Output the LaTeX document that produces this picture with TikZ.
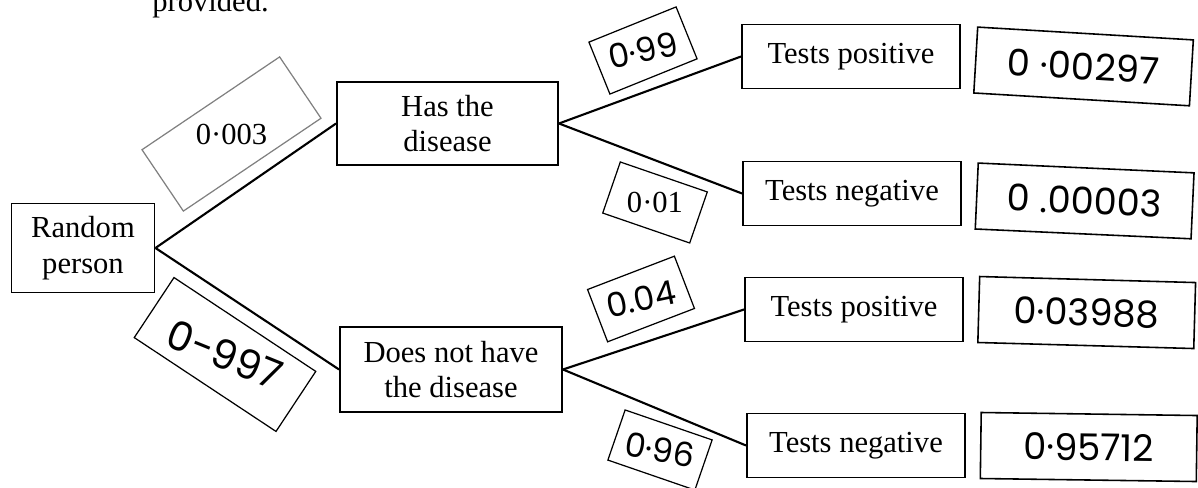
\documentclass[tikz,border=0pt]{standalone}
\usepackage{fontspec}
\setmainfont{Liberation Serif}
\newfontfamily\handfont{Poppins}
\usetikzlibrary{positioning}

\begin{document}
\begin{tikzpicture}[
  font=\fontsize{17.4}{20.4}\selectfont,
  box/.style={draw, line width=1.1pt, align=center, inner sep=2pt},
  outcome/.style={box, minimum width=43.6mm, minimum height=12.8mm},
  result/.style={draw, line width=0.9pt, minimum width=43.2mm, minimum height=13.2mm,
                 font=\handfont\fontsize{21}{24}\selectfont},
  prob/.style={draw, line width=0.7pt, inner sep=0pt},
  hand/.style={font=\handfont\fontsize{19}{21}\selectfont},
  branch/.style={line width=1.2pt}
]
\useasboundingbox (0,0) rectangle (23.96,9.76);

% Cut-off line of the question above
\node[anchor=base west, inner sep=0pt] (question) at (3.04,9.52) {provided.};

% Tree nodes
\node[box, minimum width=28.6mm, minimum height=17.8mm] (person) at (1.66,4.80) {Random\\person};
\node[box, minimum width=44.2mm, minimum height=16.6mm] (has) at (8.95,7.29) {Has the\\disease};
\node[box, minimum width=44.4mm, minimum height=17mm] (hasnot) at (9.02,2.37) {Does not have\\the disease};

\node[outcome] (tp1) at (17.02,8.63) {Tests positive};
\node[outcome] (tn1) at (17.04,5.89) {Tests negative};
\node[outcome] (tp2) at (17.08,3.57) {Tests positive};
\node[outcome] (tn2) at (17.12,0.85) {Tests negative};

\draw[branch] (person.east) -- (has.west);
\draw[branch] (person.east) -- (hasnot.west);
\draw[branch] (has.east) -- (tp1.west);
\draw[branch] (has.east) -- (tn1.west);
\draw[branch] (hasnot.east) -- (tp2.west);
\draw[branch] (hasnot.east) -- (tn2.west);

% Probabilities on the branches
\node[prob, draw=gray, minimum width=33.2mm, minimum height=14.8mm, rotate=34] (p003) at (4.63,7.08) {\rotatebox{-34}{0·003}};
\node[prob, hand, minimum width=34mm, minimum height=14.4mm, rotate=-33.5] (p997) at (4.50,2.67) {\rotatebox{11.5}{\fontsize{23}{25}\selectfont 0-997}};
\node[prob, hand, minimum width=18.8mm, minimum height=11.2mm, rotate=22] (p99) at (12.86,8.75) {\rotatebox{-10}{0·99}};
\node[prob, minimum width=18.4mm, minimum height=10.8mm, rotate=-19] (p01) at (13.10,5.71) {\rotatebox{19}{0·01}};
\node[prob, hand, minimum width=18.6mm, minimum height=11.2mm, rotate=21] (p04) at (12.82,3.78) {\rotatebox{-9}{0.04}};
\node[prob, hand, minimum width=18.4mm, minimum height=10.6mm, rotate=-19] (p96) at (13.20,0.76) {\rotatebox{9}{0·96}};

% Written answers
\node[result, right=2.8mm of tp1, yshift=-0.7mm, rotate=-3.4] (r1) {0 ·00297};
\node[result, right=2.8mm of tn1, yshift=-0.5mm, rotate=-2.6] (r2) {0 .00003};
\node[result, right=2.8mm of tp2, rotate=-1.6] (r3) {0·03988};
\node[result, right=2.8mm of tn2, rotate=-0.8] (r4) {0·95712};

\end{tikzpicture}
\end{document}
